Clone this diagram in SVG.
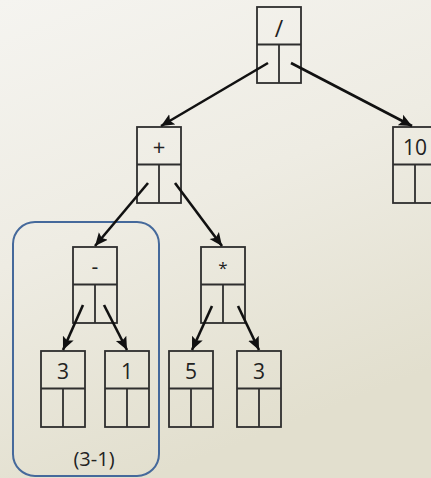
<svg xmlns="http://www.w3.org/2000/svg" width="431" height="478" viewBox="0 0 431 478">
  <defs>
    <linearGradient id="bg" x1="0" y1="0" x2="0.35" y2="1">
      <stop offset="0" stop-color="#f5f4f0"/>
      <stop offset="0.5" stop-color="#eeece3"/>
      <stop offset="1" stop-color="#e2dfce"/>
    </linearGradient>
    <marker id="arrow" viewBox="0 0 10 10" refX="10" refY="5" markerWidth="5" markerHeight="5" markerUnits="strokeWidth" orient="auto">
      <path d="M0,0.5 L10,5 L0,9.5 L2,5 Z" fill="#111"/>
    </marker>
    <!-- node cell: value cell on top, two pointer cells below -->
    <g id="cell">
      <rect x="0" y="0" width="44" height="76" fill="none"/>
      <line x1="0" y1="37.5" x2="44" y2="37.5"/>
      <line x1="22" y1="37.5" x2="22" y2="76"/>
    </g>
  </defs>
  <style>
    .node use { stroke: #2e2e2e; stroke-width: 1.8; }
    .node text { font-family: "Open Sans", "Noto Sans", sans-serif; font-size: 21px; fill: #222; text-anchor: middle; }
    .edges line { stroke: #111; stroke-width: 2.6; marker-end: url(#arrow); }
    .group { fill: none; stroke: #45699b; stroke-width: 2; }
    .caption { font-family: "Open Sans", "Noto Sans", sans-serif; font-size: 20px; fill: #222; text-anchor: middle; }
  </style>

  <rect width="431" height="478" fill="url(#bg)"/>

  <!-- subtree grouping (3-1) -->
  <g id="group-3-1">
    <rect class="group" x="13" y="222" width="146" height="254" rx="22" ry="22"/>
    <text class="caption" x="94" y="466">(3-1)</text>
  </g>

  <g id="n-div" class="node" transform="translate(257,7)">
    <use href="#cell"/>
    <text x="22" y="30" style="font-size:23px">/</text>
  </g>
  <g id="n-plus" class="node" transform="translate(137,127)">
    <use href="#cell"/>
    <text x="22" y="28" style="font-size:22px">+</text>
  </g>
  <g id="n-10" class="node" transform="translate(393,127)">
    <use href="#cell"/>
    <text x="22" y="28">10</text>
  </g>
  <g id="n-minus" class="node" transform="translate(73,247)">
    <use href="#cell"/>
    <text x="22" y="27">-</text>
  </g>
  <g id="n-mul" class="node" transform="translate(201,247)">
    <use href="#cell"/>
    <text x="22" y="27" style="font-size:17px">*</text>
  </g>
  <g id="n-3a" class="node" transform="translate(41,351)">
    <use href="#cell"/>
    <text x="22" y="28">3</text>
  </g>
  <g id="n-1" class="node" transform="translate(105,351)">
    <use href="#cell"/>
    <text x="22" y="28">1</text>
  </g>
  <g id="n-5" class="node" transform="translate(169,351)">
    <use href="#cell"/>
    <text x="22" y="28">5</text>
  </g>
  <g id="n-3b" class="node" transform="translate(237,351)">
    <use href="#cell"/>
    <text x="22" y="28">3</text>
  </g>

  <g id="edges" class="edges">
    <line x1="268" y1="63" x2="161" y2="126"/>
    <line x1="291" y1="63" x2="412" y2="126"/>
    <line x1="148" y1="183" x2="95" y2="246"/>
    <line x1="175" y1="183" x2="222" y2="246"/>
    <line x1="83" y1="305" x2="63" y2="350"/>
    <line x1="104" y1="305" x2="127" y2="350"/>
    <line x1="212" y1="306" x2="192" y2="350"/>
    <line x1="238" y1="306" x2="259" y2="350"/>
  </g>
</svg>
